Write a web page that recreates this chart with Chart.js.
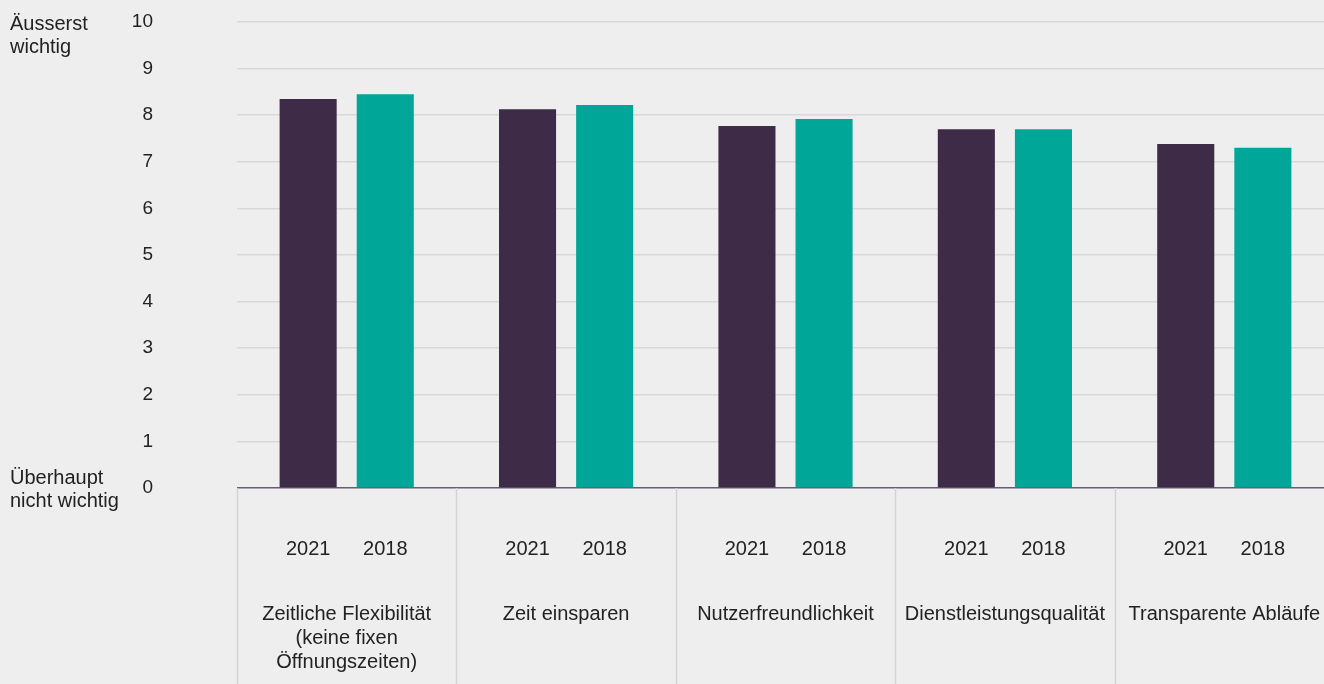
<!DOCTYPE html>
<html>
<head>
<meta charset="utf-8">
<script src="https://cdn.jsdelivr.net/npm/chart.js@4"></script>
<style>
  html, body { margin: 0; padding: 0; background: #eeeeee; overflow: hidden; }
  canvas { display: block; }
</style>
</head>
<body>
<canvas id="chart" width="1334" height="684"></canvas>
<script>
// categories + values
const categories = [
  ['Zeitliche Flexibilität', '(keine fixen', 'Öffnungszeiten)'],
  'Zeit einsparen',
  'Nutzerfreundlichkeit',
  'Dienstleistungsqualität',
  'Transparente Abläufe'
];
const values2021 = [8.35, 8.13, 7.77, 7.70, 7.38];
const values2018 = [8.45, 8.22, 7.92, 7.70, 7.30];
const yTop = 'Äusserst\nwichtig';
const yBottom = 'Überhaupt\nnicht wichtig';

const textColor = '#222222';
const fontFamily = '"Liberation Sans", Arial, sans-serif';

// years under the bars, axis end labels, separators below the plot
const extras = {
  id: 'extras',
  afterDraw(chart) {
    const ctx = chart.ctx;
    const area = chart.chartArea;
    const y = chart.scales.y;
    const x = chart.scales.x;
    ctx.save();

    // vertical separators in the label area
    ctx.strokeStyle = '#d4d4d4';
    ctx.lineWidth = 1.5;
    const seps = [area.left];
    for (let i = 0; i < categories.length - 1; i++) {
      seps.push((x.getPixelForValue(i) + x.getPixelForValue(i + 1)) / 2);
    }
    seps.forEach(px => {
      ctx.beginPath();
      ctx.moveTo(Math.round(px) + 0.5, area.bottom);
      ctx.lineTo(Math.round(px) + 0.5, chart.height);
      ctx.stroke();
    });

    ctx.fillStyle = textColor;
    ctx.font = '20px ' + fontFamily;
    ctx.textBaseline = 'middle';

    // year under every bar
    ctx.textAlign = 'center';
    chart.data.datasets.forEach((ds, di) => {
      chart.getDatasetMeta(di).data.forEach(bar => {
        ctx.fillText(ds.label, bar.x, area.bottom + 61);
      });
    });

    // scale end descriptions
    ctx.textAlign = 'left';
    const top = y.getPixelForValue(10);
    yTop.split('\n').forEach((line, i) => ctx.fillText(line, 10, top + 2 + i * 23));
    const zero = y.getPixelForValue(0);
    yBottom.split('\n').forEach((line, i) => ctx.fillText(line, 10, zero - 10 + i * 23));

    ctx.restore();
  }
};

new Chart(document.getElementById('chart'), {
  type: 'bar',
  data: {
    labels: categories,
    datasets: [
      { label: '2021', data: values2021, backgroundColor: '#3d2b48' },
      { label: '2018', data: values2018, backgroundColor: '#00a697' }
    ]
  },
  options: {
    responsive: false,
    animation: false,
    layout: { padding: { top: 22, right: 0, left: 0, bottom: 0 } },
    plugins: { legend: { display: false }, tooltip: { enabled: false } },
    datasets: { bar: { categoryPercentage: 0.703, barPercentage: 0.74 } },
    scales: {
      x: {
        grid: { display: false },
        border: { display: false },
        ticks: {
          color: textColor,
          font: { family: fontFamily, size: 20, lineHeight: 1.2 },
          padding: 106,
          maxRotation: 0,
          autoSkip: false
        },
        afterFit(scale) {
          scale.height = 196;
          scale.paddingLeft = 0;
          scale.paddingRight = 0;
        }
      },
      y: {
        min: 0,
        max: 10,
        ticks: {
          stepSize: 1,
          color: textColor,
          font: { family: fontFamily, size: 19 },
          padding: 84
        },
        grid: {
          drawTicks: false,
          lineWidth: 1.5,
          color: c => c.tick.value === 0 ? '#6a5a73' : '#d8d8d8'
        },
        border: { display: false },
        afterFit(scale) {
          scale.width = 237;
          scale.paddingTop = 10;
          scale.paddingBottom = 10;
        }
      }
    }
  },
  plugins: [extras]
});
</script>
</body>
</html>
